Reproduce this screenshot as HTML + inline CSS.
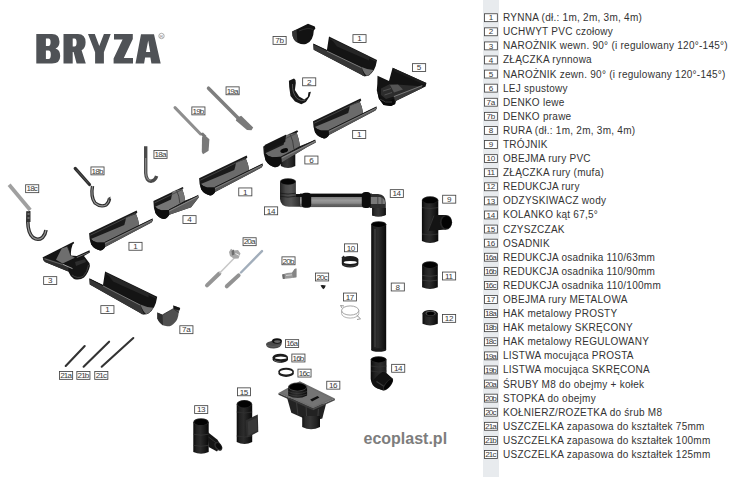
<!DOCTYPE html>
<html><head><meta charset="utf-8"><style>
html,body{margin:0;padding:0;background:#fff;width:750px;height:477px;overflow:hidden}
svg{display:block;font-family:"Liberation Sans",sans-serif}
</style></head><body>
<svg width="750" height="477" viewBox="0 0 750 477">
<defs><linearGradient id="cyl" x1="0" x2="1" y1="0" y2="0"><stop offset="0" stop-color="#121212"/><stop offset="0.18" stop-color="#2a2a2a"/><stop offset="0.45" stop-color="#363636"/><stop offset="0.8" stop-color="#222"/><stop offset="1" stop-color="#0e0e0e"/></linearGradient><linearGradient id="cylb" x1="0" x2="1" y1="0" y2="0"><stop offset="0" stop-color="#0a0a0a"/><stop offset="0.2" stop-color="#222"/><stop offset="0.45" stop-color="#2c2c2c"/><stop offset="0.8" stop-color="#161616"/><stop offset="1" stop-color="#080808"/></linearGradient><linearGradient id="cylg" x1="0" x2="1" y1="0" y2="0"><stop offset="0" stop-color="#222"/><stop offset="0.25" stop-color="#484848"/><stop offset="0.5" stop-color="#555"/><stop offset="0.85" stop-color="#333"/><stop offset="1" stop-color="#1a1a1a"/></linearGradient><linearGradient id="hpipe" x1="0" x2="0" y1="0" y2="1"><stop offset="0" stop-color="#0a0a0a"/><stop offset="0.22" stop-color="#111"/><stop offset="0.26" stop-color="#7e7e7e"/><stop offset="0.5" stop-color="#9a9a9a"/><stop offset="0.72" stop-color="#888"/><stop offset="0.78" stop-color="#6a6a6a"/><stop offset="1" stop-color="#555"/></linearGradient></defs>
<rect x="483" y="0" width="16" height="477" fill="#e8ebee"/>
<rect x="484.45" y="13.75" width="12.90" height="7.90" fill="#fff" stroke="#444" stroke-width="0.85"/><text x="490.90" y="20.40" font-size="8.1" text-anchor="middle" fill="#3a3a3a" letter-spacing="0">1</text>
<text x="503" y="21.20" font-size="10" letter-spacing="0.26" fill="#333">RYNNA (dł.: 1m, 2m, 3m, 4m)</text>
<rect x="484.45" y="27.84" width="12.90" height="7.90" fill="#fff" stroke="#444" stroke-width="0.85"/><text x="490.90" y="34.49" font-size="8.1" text-anchor="middle" fill="#3a3a3a" letter-spacing="0">2</text>
<text x="503" y="35.29" font-size="10" letter-spacing="0.26" fill="#333">UCHWYT PVC czołowy</text>
<rect x="484.45" y="41.93" width="12.90" height="7.90" fill="#fff" stroke="#444" stroke-width="0.85"/><text x="490.90" y="48.58" font-size="8.1" text-anchor="middle" fill="#3a3a3a" letter-spacing="0">3</text>
<text x="503" y="49.38" font-size="10" letter-spacing="0.26" fill="#333">NAROŻNIK wewn. 90° (i regulowany 120°-145°)</text>
<rect x="484.45" y="56.02" width="12.90" height="7.90" fill="#fff" stroke="#444" stroke-width="0.85"/><text x="490.90" y="62.67" font-size="8.1" text-anchor="middle" fill="#3a3a3a" letter-spacing="0">4</text>
<text x="503" y="63.47" font-size="10" letter-spacing="0.26" fill="#333">ZŁĄCZKA rynnowa</text>
<rect x="484.45" y="70.11" width="12.90" height="7.90" fill="#fff" stroke="#444" stroke-width="0.85"/><text x="490.90" y="76.76" font-size="8.1" text-anchor="middle" fill="#3a3a3a" letter-spacing="0">5</text>
<text x="503" y="77.56" font-size="10" letter-spacing="0.26" fill="#333">NAROŻNIK zewn. 90° (i regulowany 120°-145°)</text>
<rect x="484.45" y="84.20" width="12.90" height="7.90" fill="#fff" stroke="#444" stroke-width="0.85"/><text x="490.90" y="90.85" font-size="8.1" text-anchor="middle" fill="#3a3a3a" letter-spacing="0">6</text>
<text x="503" y="91.65" font-size="10" letter-spacing="0.26" fill="#333">LEJ spustowy</text>
<rect x="484.45" y="98.29" width="12.90" height="7.90" fill="#fff" stroke="#444" stroke-width="0.85"/><text x="490.70" y="104.94" font-size="8.1" text-anchor="middle" fill="#3a3a3a" letter-spacing="-0.4">7a</text>
<text x="503" y="105.74" font-size="10" letter-spacing="0.26" fill="#333">DENKO lewe</text>
<rect x="484.45" y="112.38" width="12.90" height="7.90" fill="#fff" stroke="#444" stroke-width="0.85"/><text x="490.70" y="119.03" font-size="8.1" text-anchor="middle" fill="#3a3a3a" letter-spacing="-0.4">7b</text>
<text x="503" y="119.83" font-size="10" letter-spacing="0.26" fill="#333">DENKO prawe</text>
<rect x="484.45" y="126.47" width="12.90" height="7.90" fill="#fff" stroke="#444" stroke-width="0.85"/><text x="490.90" y="133.12" font-size="8.1" text-anchor="middle" fill="#3a3a3a" letter-spacing="0">8</text>
<text x="503" y="133.92" font-size="10" letter-spacing="0.26" fill="#333">RURA (dł.: 1m, 2m, 3m, 4m)</text>
<rect x="484.45" y="140.56" width="12.90" height="7.90" fill="#fff" stroke="#444" stroke-width="0.85"/><text x="490.90" y="147.21" font-size="8.1" text-anchor="middle" fill="#3a3a3a" letter-spacing="0">9</text>
<text x="503" y="148.01" font-size="10" letter-spacing="0.26" fill="#333">TRÓJNIK</text>
<rect x="484.45" y="154.65" width="12.90" height="7.90" fill="#fff" stroke="#444" stroke-width="0.85"/><text x="490.70" y="161.30" font-size="8.1" text-anchor="middle" fill="#3a3a3a" letter-spacing="-0.4">10</text>
<text x="503" y="162.10" font-size="10" letter-spacing="0.26" fill="#333">OBEJMA rury PVC</text>
<rect x="484.45" y="168.74" width="12.90" height="7.90" fill="#fff" stroke="#444" stroke-width="0.85"/><text x="490.70" y="175.39" font-size="8.1" text-anchor="middle" fill="#3a3a3a" letter-spacing="-0.4">11</text>
<text x="503" y="176.19" font-size="10" letter-spacing="0.26" fill="#333">ZŁĄCZKA rury (mufa)</text>
<rect x="484.45" y="182.83" width="12.90" height="7.90" fill="#fff" stroke="#444" stroke-width="0.85"/><text x="490.70" y="189.48" font-size="8.1" text-anchor="middle" fill="#3a3a3a" letter-spacing="-0.4">12</text>
<text x="503" y="190.28" font-size="10" letter-spacing="0.26" fill="#333">REDUKCJA rury</text>
<rect x="484.45" y="196.92" width="12.90" height="7.90" fill="#fff" stroke="#444" stroke-width="0.85"/><text x="490.70" y="203.57" font-size="8.1" text-anchor="middle" fill="#3a3a3a" letter-spacing="-0.4">13</text>
<text x="503" y="204.37" font-size="10" letter-spacing="0.26" fill="#333">ODZYSKIWACZ wody</text>
<rect x="484.45" y="211.01" width="12.90" height="7.90" fill="#fff" stroke="#444" stroke-width="0.85"/><text x="490.70" y="217.66" font-size="8.1" text-anchor="middle" fill="#3a3a3a" letter-spacing="-0.4">14</text>
<text x="503" y="218.46" font-size="10" letter-spacing="0.26" fill="#333">KOLANKO kąt 67,5°</text>
<rect x="484.45" y="225.10" width="12.90" height="7.90" fill="#fff" stroke="#444" stroke-width="0.85"/><text x="490.70" y="231.75" font-size="8.1" text-anchor="middle" fill="#3a3a3a" letter-spacing="-0.4">15</text>
<text x="503" y="232.55" font-size="10" letter-spacing="0.26" fill="#333">CZYSZCZAK</text>
<rect x="484.45" y="239.19" width="12.90" height="7.90" fill="#fff" stroke="#444" stroke-width="0.85"/><text x="490.70" y="245.84" font-size="8.1" text-anchor="middle" fill="#3a3a3a" letter-spacing="-0.4">16</text>
<text x="503" y="246.64" font-size="10" letter-spacing="0.26" fill="#333">OSADNIK</text>
<rect x="484.45" y="253.28" width="12.90" height="7.90" fill="#fff" stroke="#444" stroke-width="0.85"/><text x="490.47" y="259.93" font-size="8.1" text-anchor="middle" fill="#3a3a3a" letter-spacing="-0.85">16a</text>
<text x="503" y="260.73" font-size="10" letter-spacing="0.26" fill="#333">REDUKCJA osadnika 110/63mm</text>
<rect x="484.45" y="267.37" width="12.90" height="7.90" fill="#fff" stroke="#444" stroke-width="0.85"/><text x="490.47" y="274.02" font-size="8.1" text-anchor="middle" fill="#3a3a3a" letter-spacing="-0.85">16b</text>
<text x="503" y="274.82" font-size="10" letter-spacing="0.26" fill="#333">REDUKCJA osadnika 110/90mm</text>
<rect x="484.45" y="281.46" width="12.90" height="7.90" fill="#fff" stroke="#444" stroke-width="0.85"/><text x="490.47" y="288.11" font-size="8.1" text-anchor="middle" fill="#3a3a3a" letter-spacing="-0.85">16c</text>
<text x="503" y="288.91" font-size="10" letter-spacing="0.26" fill="#333">REDUKCJA osadnika 110/100mm</text>
<rect x="484.45" y="295.55" width="12.90" height="7.90" fill="#fff" stroke="#444" stroke-width="0.85"/><text x="490.70" y="302.20" font-size="8.1" text-anchor="middle" fill="#3a3a3a" letter-spacing="-0.4">17</text>
<text x="503" y="303.00" font-size="10" letter-spacing="0.26" fill="#333">OBEJMA rury METALOWA</text>
<rect x="484.45" y="309.64" width="12.90" height="7.90" fill="#fff" stroke="#444" stroke-width="0.85"/><text x="490.47" y="316.29" font-size="8.1" text-anchor="middle" fill="#3a3a3a" letter-spacing="-0.85">18a</text>
<text x="503" y="317.09" font-size="10" letter-spacing="0.26" fill="#333">HAK metalowy PROSTY</text>
<rect x="484.45" y="323.73" width="12.90" height="7.90" fill="#fff" stroke="#444" stroke-width="0.85"/><text x="490.47" y="330.38" font-size="8.1" text-anchor="middle" fill="#3a3a3a" letter-spacing="-0.85">18b</text>
<text x="503" y="331.18" font-size="10" letter-spacing="0.26" fill="#333">HAK metalowy SKRĘCONY</text>
<rect x="484.45" y="337.82" width="12.90" height="7.90" fill="#fff" stroke="#444" stroke-width="0.85"/><text x="490.47" y="344.47" font-size="8.1" text-anchor="middle" fill="#3a3a3a" letter-spacing="-0.85">18c</text>
<text x="503" y="345.27" font-size="10" letter-spacing="0.26" fill="#333">HAK metalowy REGULOWANY</text>
<rect x="484.45" y="351.91" width="12.90" height="7.90" fill="#fff" stroke="#444" stroke-width="0.85"/><text x="490.47" y="358.56" font-size="8.1" text-anchor="middle" fill="#3a3a3a" letter-spacing="-0.85">19a</text>
<text x="503" y="359.36" font-size="10" letter-spacing="0.26" fill="#333">LISTWA mocująca PROSTA</text>
<rect x="484.45" y="366.00" width="12.90" height="7.90" fill="#fff" stroke="#444" stroke-width="0.85"/><text x="490.47" y="372.65" font-size="8.1" text-anchor="middle" fill="#3a3a3a" letter-spacing="-0.85">19b</text>
<text x="503" y="373.45" font-size="10" letter-spacing="0.26" fill="#333">LISTWA mocująca SKRĘCONA</text>
<rect x="484.45" y="380.09" width="12.90" height="7.90" fill="#fff" stroke="#444" stroke-width="0.85"/><text x="490.47" y="386.74" font-size="8.1" text-anchor="middle" fill="#3a3a3a" letter-spacing="-0.85">20a</text>
<text x="503" y="387.54" font-size="10" letter-spacing="0.26" fill="#333">ŚRUBY M8 do obejmy + kołek</text>
<rect x="484.45" y="394.18" width="12.90" height="7.90" fill="#fff" stroke="#444" stroke-width="0.85"/><text x="490.47" y="400.83" font-size="8.1" text-anchor="middle" fill="#3a3a3a" letter-spacing="-0.85">20b</text>
<text x="503" y="401.63" font-size="10" letter-spacing="0.26" fill="#333">STOPKA do obejmy</text>
<rect x="484.45" y="408.27" width="12.90" height="7.90" fill="#fff" stroke="#444" stroke-width="0.85"/><text x="490.47" y="414.92" font-size="8.1" text-anchor="middle" fill="#3a3a3a" letter-spacing="-0.85">20c</text>
<text x="503" y="415.72" font-size="10" letter-spacing="0.26" fill="#333">KOŁNIERZ/ROZETKA do śrub M8</text>
<rect x="484.45" y="422.36" width="12.90" height="7.90" fill="#fff" stroke="#444" stroke-width="0.85"/><text x="490.47" y="429.01" font-size="8.1" text-anchor="middle" fill="#3a3a3a" letter-spacing="-0.85">21a</text>
<text x="503" y="429.81" font-size="10" letter-spacing="0.26" fill="#333">USZCZELKA zapasowa do kształtek 75mm</text>
<rect x="484.45" y="436.45" width="12.90" height="7.90" fill="#fff" stroke="#444" stroke-width="0.85"/><text x="490.47" y="443.10" font-size="8.1" text-anchor="middle" fill="#3a3a3a" letter-spacing="-0.85">21b</text>
<text x="503" y="443.90" font-size="10" letter-spacing="0.26" fill="#333">USZCZELKA zapasowa do kształtek 100mm</text>
<rect x="484.45" y="450.54" width="12.90" height="7.90" fill="#fff" stroke="#444" stroke-width="0.85"/><text x="490.47" y="457.19" font-size="8.1" text-anchor="middle" fill="#3a3a3a" letter-spacing="-0.85">21c</text>
<text x="503" y="457.99" font-size="10" letter-spacing="0.26" fill="#333">USZCZELKA zapasowa do kształtek 125mm</text>
<g fill="#4f5256"><path fill-rule="evenodd" d="M36.3,33.9 H52 Q59.5,34 59.5,41.8 Q59.5,47 55.5,48.6 Q60.2,50 60.2,56 Q60.2,63.6 52,63.6 H36.3 Z M45.9,38.6 V46 H48.5 Q50.6,46 50.6,42.3 Q50.6,38.6 48.5,38.6 Z M45.9,50.6 V59 H48.5 Q50.8,59 50.8,54.8 Q50.8,50.6 48.5,50.6 Z"/><path fill-rule="evenodd" d="M63.5,33.9 H78 Q85.6,34 85.6,42.3 Q85.6,48.3 81.6,50.3 L85.8,63.6 H76.6 L73.6,52 H72.7 V63.6 H63.5 Z M72.7,38.6 V46.4 H74.5 Q76.6,46.4 76.6,42.5 Q76.6,38.6 74.5,38.6 Z"/><path d="M88,33.9 H94.8 L99.3,46 L103.9,33.9 H110.7 L103.9,52.3 V63.6 H95.1 V52.3 Z"/><path d="M114,33.9 H132.8 V38.9 L123.8,57.9 H133 V63.6 H113.6 V58.4 L122.6,39.4 H114 Z"/><path fill-rule="evenodd" d="M135.5,63.6 L141,34.3 H154 L160.7,63.6 H151.4 L150.4,57.6 H145.1 L144.1,63.6 Z M146,51.9 H150.2 L148.2,40.6 Z"/></g>
<circle cx="161.5" cy="36" r="2.7" fill="none" stroke="#8a8a8a" stroke-width="0.7"/><text x="161.5" y="37.6" font-size="4.2" text-anchor="middle" fill="#8a8a8a">R</text>
<text x="363.5" y="443.6" font-size="16" font-weight="bold" fill="#7d7d7d">ecoplast.pl</text>
<path d="M329.00,36.60 L377.00,59.90 L376.70,61.50 Q375.50,70.60 369.00,75.40 Q364.50,77.40 361.00,74.60 L313.70,49.80 L313.30,43.90 L326.90,50.30 Z" fill="#141414"/><path d="M313.30,43.90 L361.50,66.80 Q362.50,71.60 365.00,76.40 Q363.00,76.60 361.00,74.60 L313.70,49.80 Z" fill="#363636"/><path d="M313.40,44.00 L361.50,66.90" stroke="#0e0e0e" stroke-width="0.9"/><path d="M330.00,38.90 L376.00,61.20" stroke="#333" stroke-width="0.7"/><path d="M326.90,51.10 L361.50,67.70" stroke="#9a9a9a" stroke-width="0.7"/><path d="M361.50,67.00 Q367.00,69.60 373.50,70.10 Q371.00,74.10 367.00,76.10 Q364.00,73.60 361.50,67.00 Z" fill="#6e6e6e"/><polygon points="331.0,38.6 369.0,56.6 369.0,60.6 337.0,46.6" fill="#262626"/>
<path d="M105.10,271.40 L157.18,296.68 L156.85,298.42 Q155.55,308.29 148.50,313.50 Q143.62,315.67 139.82,312.63 L89.80,284.60 L89.40,278.70 L103.00,285.10 Z" fill="#141414"/><path d="M89.40,278.70 L140.36,304.17 Q141.45,309.38 144.16,314.58 Q141.99,314.80 139.82,312.63 L89.80,284.60 Z" fill="#363636"/><path d="M89.50,278.80 L140.36,304.28" stroke="#0e0e0e" stroke-width="0.9"/><path d="M106.10,273.70 L156.09,298.09" stroke="#333" stroke-width="0.7"/><path d="M103.00,285.90 L140.36,305.14" stroke="#9a9a9a" stroke-width="0.7"/><path d="M140.36,304.38 Q146.33,307.20 153.38,307.75 Q150.67,312.09 146.33,314.26 Q143.07,311.54 140.36,304.38 Z" fill="#6e6e6e"/><polygon points="107.1,273.4 148.5,293.1 148.5,297.4 113.1,281.4" fill="#262626"/>
<path d="M313.00,121.30 L360.50,98.40 L361.30,100.30 L359.90,102.10 Q362.50,107.30 363.10,113.30 L376.50,106.90 L376.80,108.70 L375.40,110.60 L329.00,135.10 Q327.00,138.50 324.00,138.50 Q318.00,137.30 315.00,132.30 Q313.00,127.30 313.00,121.30 Z" fill="#1a1a1a"/><path d="M314.80,127.10 L348.20,112.90 Q349.50,109.30 349.90,105.60 L359.90,102.10 Q362.50,107.30 363.10,113.30 L328.50,130.40 L321.00,130.60 Q317.00,129.80 314.80,127.10 Z" fill="#6b6b6b"/><path d="M328.50,130.40 L376.50,106.90 L375.40,110.60 L329.00,135.10 Z" fill="#585858"/><line x1="328.5" y1="130.4" x2="376.5" y2="106.9" stroke="#1a1a1a" stroke-width="1"/><line x1="328.8" y1="131.6" x2="376.3" y2="108.2" stroke="#8a8a8a" stroke-width="0.7"/><line x1="314.2" y1="123.2" x2="359.5" y2="101.2" stroke="#4a4a4a" stroke-width="0.9"/><path d="M314.80,127.10 Q317.00,129.80 321.00,130.60 L328.50,130.40 L329.00,135.10 Q327.00,138.50 324.00,138.50 Q318.00,137.30 315.00,132.30 Q313.80,129.30 314.80,127.10 Z" fill="#0e0e0e"/>
<path d="M199.10,178.30 L246.60,155.40 L247.40,157.30 L246.00,159.10 Q248.60,164.30 249.20,170.30 L262.60,163.90 L262.90,165.70 L261.50,167.60 L215.10,192.10 Q213.10,195.50 210.10,195.50 Q204.10,194.30 201.10,189.30 Q199.10,184.30 199.10,178.30 Z" fill="#1a1a1a"/><path d="M200.90,184.10 L234.30,169.90 Q235.60,166.30 236.00,162.60 L246.00,159.10 Q248.60,164.30 249.20,170.30 L214.60,187.40 L207.10,187.60 Q203.10,186.80 200.90,184.10 Z" fill="#6b6b6b"/><path d="M214.60,187.40 L262.60,163.90 L261.50,167.60 L215.10,192.10 Z" fill="#585858"/><line x1="214.6" y1="187.4" x2="262.6" y2="163.9" stroke="#1a1a1a" stroke-width="1"/><line x1="214.9" y1="188.6" x2="262.4" y2="165.2" stroke="#8a8a8a" stroke-width="0.7"/><line x1="200.3" y1="180.2" x2="245.6" y2="158.2" stroke="#4a4a4a" stroke-width="0.9"/><path d="M200.90,184.10 Q203.10,186.80 207.10,187.60 L214.60,187.40 L215.10,192.10 Q213.10,195.50 210.10,195.50 Q204.10,194.30 201.10,189.30 Q199.90,186.30 200.90,184.10 Z" fill="#0e0e0e"/>
<path d="M89.10,233.30 L136.60,210.40 L137.40,212.30 L136.00,214.10 Q138.60,219.30 139.20,225.30 L152.60,218.90 L152.90,220.70 L151.50,222.60 L105.10,247.10 Q103.10,250.50 100.10,250.50 Q94.10,249.30 91.10,244.30 Q89.10,239.30 89.10,233.30 Z" fill="#1a1a1a"/><path d="M90.90,239.10 L124.30,224.90 Q125.60,221.30 126.00,217.60 L136.00,214.10 Q138.60,219.30 139.20,225.30 L104.60,242.40 L97.10,242.60 Q93.10,241.80 90.90,239.10 Z" fill="#6b6b6b"/><path d="M104.60,242.40 L152.60,218.90 L151.50,222.60 L105.10,247.10 Z" fill="#585858"/><line x1="104.6" y1="242.4" x2="152.6" y2="218.9" stroke="#1a1a1a" stroke-width="1"/><line x1="104.9" y1="243.6" x2="152.4" y2="220.2" stroke="#8a8a8a" stroke-width="0.7"/><line x1="90.3" y1="235.2" x2="135.6" y2="213.2" stroke="#4a4a4a" stroke-width="0.9"/><path d="M90.90,239.10 Q93.10,241.80 97.10,242.60 L104.60,242.40 L105.10,247.10 Q103.10,250.50 100.10,250.50 Q94.10,249.30 91.10,244.30 Q89.90,241.30 90.90,239.10 Z" fill="#0e0e0e"/>
<polygon points="377.5,75.8 389.0,81.1 392.6,67.7 426.4,82.9 425.6,86.4 421.9,88.2 396.2,100.8 395.2,104.0 391.0,106.1 383.6,105.0 378.9,98.7 376.8,90.3 377.3,84.0" fill="#131313" />
<polygon points="381.0,88.5 390.0,84.0 421.0,86.3 394.0,96.5 386.0,99.0 381.0,95.0" fill="#2c2c2c" />
<polygon points="390.0,85.0 398.0,84.5 403.0,89.5 394.0,92.5" fill="#555" />
<path d="M383,91 L391,88.5 M384.5,95 L392,92.5" stroke="#6a6a6a" stroke-width="0.6"/>
<polygon points="393.8,96.3 422.4,85.4 421.9,88.2 396.2,100.8 395.2,101.5" fill="#3a3a3a" />
<line x1="393.8" y1="96.6" x2="422.3" y2="85.6" stroke="#9a9a9a" stroke-width="0.7"/>
<path d="M377,90 Q378.5,97 383,100.5 Q388,102.5 393.5,99 L395.2,104 L391,106.1 L383.6,105 L378.9,98.7 Z" fill="#080808"/>
<path d="M380,99 Q385,103.5 392,102" fill="none" stroke="#555" stroke-width="0.7"/>
<polygon points="392.6,67.7 426.4,82.9 424.0,84.5 394.5,71.5" fill="#1c1c1c" />
<path d="M292.2,31.4 L308,23.7 L314.8,26.6 L315.4,28.5 L313.8,30.4 Q313.5,41 306,44 Q299,45.5 294,39.5 Q292,36 292.2,31.4 Z" fill="#121212"/>
<path d="M292.2,31.4 L296.5,29.6 L297.5,42.6 Q295,41.5 294,39.5 Q292,36 292.2,31.4 Z" fill="#333"/>
<path d="M299,31 Q308,27 313,29.5" fill="none" stroke="#2e2e2e" stroke-width="1"/>
<polygon points="288.9,80.8 294.0,78.6 295.5,80.0 295.8,83.0 294.9,90.0 299.1,96.5 304.3,99.5 307.8,96.8 308.5,92.3 310.9,91.8 309.6,96.5 305.9,102.0 301.3,104.3 295.0,101.5 290.5,96.0 289.2,87.0" fill="#161616" />
<path d="M292.5,84 Q292,93 297,98.5 Q301.5,102 305.5,100" fill="none" stroke="#666" stroke-width="0.8"/>
<path d="M153.40,200.90 L182.70,187.00 L183.60,188.30 L182.30,189.10 Q184.40,194.90 185.20,200.50 L198.20,195.40 L198.70,197.50 L191.10,207.20 L169.30,214.70 Q166.90,218.90 163.40,218.90 Q158.40,217.90 155.40,212.90 Q153.40,207.90 153.40,200.90 Z" fill="#1a1a1a"/><path d="M155.20,206.70 L171.00,199.40 Q171.90,194.90 172.60,191.30 L182.30,189.10 Q184.40,194.90 185.20,200.50 L168.90,209.90 L161.40,210.20 Q157.40,209.40 155.20,206.70 Z" fill="#767676"/><path d="M176.40,189.90 Q179.40,195.90 179.90,203.40" fill="none" stroke="#333" stroke-width="0.8"/><path d="M168.90,209.90 L198.20,195.40 L198.70,197.50 L191.10,207.20 L169.30,214.70 Z" fill="#5e5e5e"/><path d="M168.90,209.90 L198.20,195.40" stroke="#1a1a1a" stroke-width="1"/><path d="M169.20,211.10 L198.00,196.60" stroke="#999" stroke-width="0.7"/><path d="M154.60,202.80 L181.90,189.70" stroke="#4a4a4a" stroke-width="0.9"/><path d="M155.20,206.70 Q157.40,209.40 161.40,210.20 L168.90,209.90 L169.30,214.70 Q166.90,218.90 163.40,218.90 Q158.40,217.90 155.40,212.90 Q154.20,208.90 155.20,206.70 Z" fill="#0e0e0e"/>
<path d="M280.8,152 L295.3,148 L295.3,166 Q288,170 280.8,166 Z" fill="url(#cyl)"/>
<path d="M263.20,146.40 L297.19,130.28 L298.23,131.78 L296.72,132.71 Q299.16,139.44 300.09,145.94 L315.17,140.02 L315.75,142.46 L307.16,146.98 L281.64,162.41 Q278.86,167.28 274.80,167.28 Q269.00,166.12 265.52,160.32 Q263.20,154.52 263.20,146.40 Z" fill="#1a1a1a"/><path d="M265.29,153.13 L283.62,144.66 Q284.66,139.44 285.47,135.26 L296.72,132.71 Q299.16,139.44 300.09,145.94 L281.18,156.84 L272.48,157.19 Q267.84,156.26 265.29,153.13 Z" fill="#6a6a6a"/><path d="M289.88,133.64 Q293.36,140.60 293.94,149.30" fill="none" stroke="#333" stroke-width="0.8"/><path d="M281.18,156.84 L315.17,140.02 L315.75,142.46 L307.16,146.98 L281.64,162.41 Z" fill="#5e5e5e"/><path d="M281.18,156.84 L315.17,140.02" stroke="#1a1a1a" stroke-width="1"/><path d="M281.53,158.23 L314.94,141.41" stroke="#999" stroke-width="0.7"/><path d="M264.59,148.60 L296.26,133.41" stroke="#4a4a4a" stroke-width="0.9"/><path d="M265.29,153.13 Q267.84,156.26 272.48,157.19 L281.18,156.84 L281.64,162.41 Q278.86,167.28 274.80,167.28 Q269.00,166.12 265.52,160.32 Q264.13,155.68 265.29,153.13 Z" fill="#0e0e0e"/>
<path d="M264.70,151.40 L285.20,141.90 Q285.70,137.40 286.20,134.40 L264.70,144.90 Z" fill="#141414"/>
<ellipse cx="284.2" cy="150.5" rx="4" ry="2.2" fill="#0a0a0a" transform="rotate(-20 284.2 150.5)"/>
<path d="M42.8,257.3 L73.5,241.8 L74.2,243 L72.6,244.5 Q70.5,250 70.8,255.6 L76.8,255.9 L89.5,250.3 L89.9,252.5 L84,256 L89.5,263.3 L89.9,266 Q88.5,273 84,277.5 Q80,280.5 74,279 Q70,276 68.3,271.5 L45,262 Q42.5,260 42.8,257.3 Z" fill="#151515"/>
<path d="M56,259.8 L61.7,248.4 L67.4,246.5 Q69.5,251 70.8,255.6 L74.9,257.8 L62.6,263.5 Z" fill="#6e6e6e"/>
<path d="M67.4,246.5 Q69.5,251 70.8,255.6" fill="none" stroke="#222" stroke-width="0.8"/>
<path d="M42.8,257.3 L62.6,263.5 L68.3,266.8 L68.3,271.5 L45,262 Q42.5,260 42.8,257.3 Z" fill="#2e2e2e"/>
<path d="M44.5,258.8 L62.5,264.5" stroke="#8a8a8a" stroke-width="0.6"/>
<path d="M62.8,264.3 L72.5,268.6" stroke="#b0b0b0" stroke-width="0.9"/>
<path d="M76.8,257.5 L88.5,252.5" stroke="#6a6a6a" stroke-width="1"/>
<path d="M72,275 Q77,279 83,276.5 Q87.5,272 88.5,265" fill="none" stroke="#4a4a4a" stroke-width="0.8"/>
<path d="M75,262 L85,259 L86,262 L76,266 Z" fill="#2e2e2e"/>
<path d="M157.3,312.5 L162.6,314.8 L173.3,308.7 L173.3,305.6 L180.2,307.9 L179.4,310.2 L178.7,312.5 Q178,320 174.9,322.4 Q171,326.8 167.2,326.3 Q163,325.8 161.1,324 Q158,321.5 157.3,318.6 Z" fill="#505050"/>
<path d="M157.3,312.5 L162.6,314.8 L163,325.4 Q159,323 157.3,318.6 Z" fill="#2e2e2e"/>
<path d="M173.3,305.6 L180.2,307.9 L179.4,310.2 L174,309.2 Z" fill="#151515"/>
<path d="M162.6,314.8 L173.3,308.7 L178.7,312.5" fill="none" stroke="#2a2a2a" stroke-width="0.8"/>
<path d="M145.7,146.3 L145.7,173 Q146.2,181.5 151.3,181.2 Q155.3,180.5 156.6,176" fill="none" stroke="#4a4a4a" stroke-width="3.4"/>
<path d="M145.7,158 L145.7,173 Q146.2,180 150.5,180.5" fill="none" stroke="#8a8a8a" stroke-width="1.2"/>
<path d="M75.2,168.4 L89.5,184.5" stroke="#2e2e2e" stroke-width="3.2" stroke-linecap="round"/>
<path d="M76.5,169.8 L88.5,183.3" stroke="#555" stroke-width="1"/>
<path d="M92.5,186 Q90.5,197 95,203 Q100.5,207.5 106,205 Q109,202.5 109.5,198.5" fill="none" stroke="#2e2e2e" stroke-width="3.4"/>
<path d="M92.5,186 Q90.5,197 95,203 Q100.5,207.5 106,205 Q109,202.5 109.5,198.5" fill="none" stroke="#9a9a9a" stroke-width="1.1"/>
<path d="M108,198 L110.5,196.5 L110,202 Z" fill="#444"/>
<path d="M9.1,184.8 L30.2,210" stroke="#a0a0a0" stroke-width="3.8"/>
<path d="M28.2,211 L27.8,222 Q28,233 33,237.5 Q38,241 42.5,237.5 Q45.5,234 46,230" fill="none" stroke="#2e2e2e" stroke-width="3.6"/>
<path d="M28.2,211 L27.8,222 Q28,233 33,237.5 Q38,241 42.5,237.5 Q45.5,234 46,230" fill="none" stroke="#9a9a9a" stroke-width="1.2"/>
<path d="M26.5,212 L30.5,211 L30.5,222 L26.5,222 Z" fill="#333"/>
<path d="M27.5,214 h2 M27.5,218 h2" stroke="#bbb" stroke-width="0.8"/>
<path d="M208.5,88.2 L239.5,119.5" stroke="#7e7e7e" stroke-width="3.5" stroke-linecap="round"/>
<polygon points="237.0,117.8 241.2,115.8 253.2,127.6 251.5,130.2 247.0,130.0 235.8,120.5" fill="#7a7a7a" />
<path d="M175,107.6 L200.5,134" stroke="#8e8e8e" stroke-width="3" stroke-linecap="round"/>
<polygon points="200.0,133.5 203.0,132.5 206.5,136.0 203.5,138.0" fill="#777" />
<polygon points="202.0,137.3 205.5,135.8 209.4,139.2 208.6,150.8 203.0,154.3 201.8,152.0" fill="#7a7a7a" />
<path d="M65.7,366 L84.7,346 M83.6,366.7 L109.1,341.7 M101.7,366.7 L133.3,338" stroke="#333" stroke-width="2.1" stroke-linecap="round"/>
<path d="M280,181.5 L280,199 Q280.5,206.7 289,206.7 L302,206.7 L302,194.1 L295.9,194.1 L295.9,181.5 Z" fill="url(#cylg)"/>
<path d="M296,194.1 H302 V197 H296 Z" fill="#111"/>
<ellipse cx="288" cy="181.5" rx="8" ry="3.3" fill="#333"/><ellipse cx="288" cy="181.7" rx="7.2" ry="2.8" fill="#050505"/>
<path d="M280,193.2 Q288,195 295.9,193.2 M280,196.3 Q288,198 295.9,196.3" fill="none" stroke="#1a1a1a" stroke-width="0.8"/>
<rect x="300" y="193.6" width="72" height="13.5" fill="url(#hpipe)"/>
<rect x="301.7" y="192.7" width="9.5" height="15" rx="3.5" fill="#0c0c0c"/>
<path d="M370,194 L378,194 Q385.8,194.5 385.8,203 L385.8,215 Q378.8,217.8 372.2,215.5 L372.2,208 L370,208 Z" fill="#2e2e2e"/>
<path d="M370,197 L380,197 Q384.5,198 385,201.5 L385,204 L370,204 Z" fill="#7a7a7a"/>
<path d="M372.2,208 H385.8 V215 Q378.8,217.8 372.2,215.5 Z" fill="url(#cyl)"/>
<path d="M377.8,194.5 V207.5 M382,195.5 V206.5" stroke="#333" stroke-width="0.7"/>
<rect x="361.8" y="192.1" width="9" height="16" rx="3.5" fill="#0c0c0c"/>
<rect x="371.2" y="224" width="15" height="126" fill="url(#cylb)"/>
<path d="M375,229 V347" stroke="#4e4e4e" stroke-width="0.9"/>
<ellipse cx="378.7" cy="350" rx="7.5" ry="1.8" fill="#1a1a1a"/>
<ellipse cx="378.7" cy="224.3" rx="7.5" ry="3.1" fill="#2a2a2a"/><ellipse cx="378.7" cy="224.5" rx="6.8" ry="2.6" fill="#000"/>
<path d="M421.9,200 L421.9,241 Q430.1,245 438.3,241 L438.3,200 Z" fill="url(#cylb)"/>
<path d="M434,215.1 L446,215.1 L446,229.6 L428,231 Q431,222 434,215.1 Z" fill="#141414"/>
<path d="M428,231 Q432,221 434,215.5" fill="none" stroke="#3a3a3a" stroke-width="0.8"/>
<ellipse cx="446" cy="222.3" rx="6.1" ry="7.4" fill="#262626"/><ellipse cx="446.6" cy="222.3" rx="5" ry="6.3" fill="#030303"/>
<ellipse cx="430.1" cy="200" rx="8.2" ry="3.7" fill="#2a2a2a"/><ellipse cx="430.1" cy="200.2" rx="7.4" ry="3.1" fill="#030303"/>
<path d="M422,207.6 Q430,209.5 438,207.6 M422,234 Q430,236 438,234" fill="none" stroke="#3a3a3a" stroke-width="0.7"/>
<path d="M422.1,264.8 V287.3 Q430,290.5 437.8,287.3 V264.8 Z" fill="url(#cylb)"/>
<ellipse cx="430" cy="264.8" rx="7.9" ry="3.5" fill="#2a2a2a"/><ellipse cx="430" cy="265" rx="7.1" ry="2.9" fill="#030303"/>
<path d="M422.1,275.4 Q430,277.3 437.8,275.4 M422.1,280.1 Q430,282 437.8,280.1" fill="none" stroke="#444" stroke-width="0.7"/>
<path d="M422.5,313.5 V323.8 Q430.1,327 437.8,323.8 V313.5 Z" fill="url(#cylb)"/>
<ellipse cx="430.1" cy="313.5" rx="7.6" ry="3.5" fill="#1a1a1a"/><ellipse cx="430.6" cy="313.2" rx="5" ry="2.4" fill="#555"/><ellipse cx="430.6" cy="313.5" rx="4" ry="1.8" fill="#000"/>
<path d="M370.7,359.5 L370.7,379 Q371.5,386 377,388.3 L383.4,390.4 L392.7,378.7 L386.5,373 L386.5,359.5 Z" fill="url(#cylb)"/>
<path d="M372,382 Q376,376 383.3,371.2 L392.7,378.7 L383.4,390.4 L377,388.3 Q373,386 372,382 Z" fill="#121212"/>
<path d="M376.5,381.5 L386.5,388" stroke="#3a3a3a" stroke-width="1.1"/>
<ellipse cx="388" cy="384.5" rx="7.4" ry="2.9" fill="#2a2a2a" transform="rotate(-51.5 388 384.5)"/><ellipse cx="388.3" cy="384.3" rx="6.6" ry="2.2" fill="#050505" transform="rotate(-51.5 388.3 384.3)"/>
<ellipse cx="378.6" cy="359.5" rx="7.9" ry="3.2" fill="#2a2a2a"/><ellipse cx="378.6" cy="359.7" rx="7.1" ry="2.7" fill="#000"/>
<path d="M371,366 Q378.6,368 386.5,366 M371,371 Q378.6,373 386.5,371" fill="none" stroke="#333" stroke-width="0.7"/>
<path d="M207,285.4 L219.3,273.5" stroke="#959595" stroke-width="4" stroke-linecap="round"/>
<path d="M219.5,273.3 L234.1,258.2" stroke="#c8c8c8" stroke-width="1.6"/>
<polygon points="229.0,252.0 231.0,248.8 233.5,250.5 238.0,250.0 240.5,253.5 238.5,258.5 234.0,258.8 230.0,256.0" fill="#a8a8a8" />
<polygon points="231.5,251.0 234.0,249.5 234.5,254.5 232.0,255.5" fill="#6e6e6e" />
<path d="M235.5,253.5 L239.5,255.5" stroke="#eee" stroke-width="1"/>
<path d="M226.8,286.3 L238.6,275.4" stroke="#929292" stroke-width="4" stroke-linecap="round"/>
<path d="M241,272.5 L262,251.1" stroke="#a2aebb" stroke-width="2.4" stroke-linecap="round"/>
<polygon points="282.2,274.5 287.0,273.1 292.6,272.4 294.6,269.0 296.4,268.6 296.4,277.3 290.5,278.3 282.9,279.0" fill="#9a9a9a" />
<polygon points="282.2,274.5 284.5,274.0 284.8,278.8 282.9,279.0" fill="#6a6a6a" />
<polygon points="292.0,272.5 294.6,269.0 296.4,268.6 296.4,277.3 293.0,277.5" fill="#858585" />
<path d="M286,275.5 L292,274.8" stroke="#ddd" stroke-width="0.8"/>
<path d="M320.5,285.2 Q323,284.5 325.8,285.5 Q325,288.5 323.2,289.2 Q321.5,287.5 320.5,285.2 Z" fill="#1e1e1e"/>
<path d="M341.80,259.60 L341.80,263.90 A8.3,3.6 0 0 0 358.40,263.90 L358.40,259.60 A8.3,3.6 0 0 0 341.80,259.60 Z" fill="#1c1c1c"/><path d="M343,265 Q350,268 357.5,265" fill="none" stroke="#4a4a4a" stroke-width="0.6"/><ellipse cx="350.3" cy="262.4" rx="6.6" ry="1.5" fill="#fff"/>
<path d="M341.5,257.5 L343.8,255.6 L345.8,258.5 L342.5,260.5 Z" fill="#222"/>
<ellipse cx="350.2" cy="310.5" rx="8.6" ry="4.6" fill="none" stroke="#9a9a9a" stroke-width="0.9"/>
<path d="M341.6,310.5 L341.6,313.5 A8.6,4.6 0 0 0 358.8,313.5 L358.8,310.5" fill="none" stroke="#a8a8a8" stroke-width="0.9"/>
<path d="M356.5,315 L360.5,318.8 L357,319.5 M342,308 L340.5,305.5 L344,306" fill="none" stroke="#8a8a8a" stroke-width="0.9"/>
<path d="M266,344.5 Q266.5,348.7 274,348.5 Q281.5,348 281.8,343 L281.5,340.5 Q276,338 270,341.5 Q266,342.5 266,344.5 Z" fill="#4a4a4a"/>
<ellipse cx="277" cy="341" rx="4.9" ry="2.7" fill="#111"/><ellipse cx="277.3" cy="341.6" rx="3.2" ry="1.3" fill="#666"/>
<path d="M267,345.5 Q272,347.5 280.5,345.5" fill="none" stroke="#6a6a6a" stroke-width="0.6"/>
<path d="M272.60,357.30 L272.60,359.40 A7.7,3.5 0 0 0 288.00,359.40 L288.00,357.30 A7.7,3.5 0 0 0 272.60,357.30 Z" fill="#1c1c1c"/><path d="M274,360 Q276,362 281,362.2" fill="none" stroke="#777" stroke-width="0.8"/><ellipse cx="280.8" cy="357.9" rx="5.9" ry="1.3" fill="#fff"/>
<path d="M278.40,371.30 L278.40,373.40 A7.7,3.5 0 0 0 293.80,373.40 L293.80,371.30 A7.7,3.5 0 0 0 278.40,371.30 Z" fill="#1e1e1e"/><ellipse cx="286.1" cy="372.1" rx="6.3" ry="2.3" fill="#fff"/>
<polygon points="287.0,397.5 326.0,404.0 322.3,418.6 311.0,421.5 291.3,412.8" fill="#222" />
<path d="M296.4,401.5 L297.9,414.5 M306,405 L306.7,418.5 M318.4,409 L317.7,420" stroke="#444" stroke-width="0.8"/>
<path d="M302.2,416 L320,416 L320,427 Q311,431.5 302.2,427 Z" fill="url(#cyl)"/>
<polygon points="278.5,392.9 299.8,381.3 334.9,398.6 313.0,408.4" fill="#6e6e6e" />
<polygon points="282.0,392.8 299.8,383.0 331.0,398.5 313.0,406.6" fill="#747474" />
<polygon points="278.5,392.9 313.0,408.4 313.0,410.2 278.5,394.8" fill="#3a3a3a" />
<polygon points="313.0,408.4 334.9,398.6 334.9,400.3 313.0,410.2" fill="#4a4a4a" />
<polygon points="310.2,399.5 317.5,396.0 319.4,397.5 312.0,401.5" fill="#111" />
<path d="M288.2,386.5 L288.2,395.5 Q297.6,400.5 307.1,395.5 L307.1,386.5 Z" fill="url(#cylb)"/>
<path d="M288.2,391.5 Q297.6,395.5 307.1,391.5 M288.2,394 Q297.6,398 307.1,394" fill="none" stroke="#444" stroke-width="0.6"/>
<ellipse cx="297.6" cy="386.8" rx="9.5" ry="4.4" fill="#4a4a4a"/><ellipse cx="297.6" cy="387" rx="8.6" ry="3.7" fill="#000"/>
<path d="M236.7,403.9 L236.7,442 Q244.4,446 252.2,442 L252.2,403.9 Z" fill="url(#cylb)"/>
<ellipse cx="244.4" cy="403.9" rx="7.75" ry="3.9" fill="#2a2a2a"/><ellipse cx="244.4" cy="404.1" rx="6.9" ry="3.3" fill="#030303"/>
<polygon points="245.6,420.6 257.8,414.4 258.3,431.7 246.7,437.8" fill="#2e2e2e" />
<polygon points="247.8,421.7 256.7,417.8 257.2,430.6 248.3,435.6" fill="#3a3a3a" />
<path d="M236.7,412 Q244.4,414 252.2,412 M236.7,436 Q244.4,438 252.2,436" fill="none" stroke="#333" stroke-width="0.7"/>
<path d="M193.3,421.9 L193.3,452 Q201,455.5 208.7,452 L208.7,421.9 Z" fill="url(#cylb)"/>
<polygon points="207.0,431.5 217.5,439.8 221.0,445.5 217.0,451.5 208.7,447.0" fill="#151515" />
<path d="M208.5,437 L217,443.5" stroke="#333" stroke-width="0.9"/>
<ellipse cx="218.3" cy="446.3" rx="3.3" ry="5" fill="#2e2e2e" transform="rotate(-40 218.3 446.3)"/><ellipse cx="218.7" cy="446.3" rx="2.2" ry="3.6" fill="#0a0a0a" transform="rotate(-40 218.7 446.3)"/>
<ellipse cx="201" cy="421.9" rx="7.7" ry="3.6" fill="#2a2a2a"/><ellipse cx="201" cy="422.1" rx="6.9" ry="3" fill="#030303"/>
<path d="M193.3,434.2 Q201,436.2 208.7,434.2 M193.3,445.3 Q201,447.3 208.7,445.3" fill="none" stroke="#3a3a3a" stroke-width="0.7"/>
<rect x="273.05" y="36.45" width="13.10" height="7.90" fill="#fff" stroke="#444" stroke-width="0.85"/><text x="279.40" y="43.10" font-size="8.1" text-anchor="middle" fill="#3a3a3a" letter-spacing="-0.4">7b</text>
<rect x="352.95" y="34.65" width="13.10" height="7.90" fill="#fff" stroke="#444" stroke-width="0.85"/><text x="359.50" y="41.30" font-size="8.1" text-anchor="middle" fill="#3a3a3a" letter-spacing="0">1</text>
<rect x="302.65" y="77.85" width="13.10" height="7.90" fill="#fff" stroke="#444" stroke-width="0.85"/><text x="309.20" y="84.50" font-size="8.1" text-anchor="middle" fill="#3a3a3a" letter-spacing="0">2</text>
<rect x="412.55" y="63.65" width="13.10" height="7.90" fill="#fff" stroke="#444" stroke-width="0.85"/><text x="419.10" y="70.30" font-size="8.1" text-anchor="middle" fill="#3a3a3a" letter-spacing="0">5</text>
<rect x="226.05" y="86.85" width="13.10" height="7.90" fill="#fff" stroke="#444" stroke-width="0.85"/><text x="232.17" y="93.50" font-size="8.1" text-anchor="middle" fill="#3a3a3a" letter-spacing="-0.85">19a</text>
<rect x="191.85" y="106.95" width="13.10" height="7.90" fill="#fff" stroke="#444" stroke-width="0.85"/><text x="197.97" y="113.60" font-size="8.1" text-anchor="middle" fill="#3a3a3a" letter-spacing="-0.85">19b</text>
<rect x="153.95" y="150.45" width="13.10" height="7.90" fill="#fff" stroke="#444" stroke-width="0.85"/><text x="160.07" y="157.10" font-size="8.1" text-anchor="middle" fill="#3a3a3a" letter-spacing="-0.85">18a</text>
<rect x="90.95" y="166.95" width="13.10" height="7.90" fill="#fff" stroke="#444" stroke-width="0.85"/><text x="97.08" y="173.60" font-size="8.1" text-anchor="middle" fill="#3a3a3a" letter-spacing="-0.85">18b</text>
<rect x="25.65" y="184.75" width="13.10" height="7.90" fill="#fff" stroke="#444" stroke-width="0.85"/><text x="31.78" y="191.40" font-size="8.1" text-anchor="middle" fill="#3a3a3a" letter-spacing="-0.85">18c</text>
<rect x="352.65" y="130.55" width="13.10" height="7.90" fill="#fff" stroke="#444" stroke-width="0.85"/><text x="359.20" y="137.20" font-size="8.1" text-anchor="middle" fill="#3a3a3a" letter-spacing="0">1</text>
<rect x="304.85" y="156.05" width="13.10" height="7.90" fill="#fff" stroke="#444" stroke-width="0.85"/><text x="311.40" y="162.70" font-size="8.1" text-anchor="middle" fill="#3a3a3a" letter-spacing="0">6</text>
<rect x="238.75" y="187.95" width="13.10" height="7.90" fill="#fff" stroke="#444" stroke-width="0.85"/><text x="245.30" y="194.60" font-size="8.1" text-anchor="middle" fill="#3a3a3a" letter-spacing="0">1</text>
<rect x="182.95" y="215.65" width="13.10" height="7.90" fill="#fff" stroke="#444" stroke-width="0.85"/><text x="189.50" y="222.30" font-size="8.1" text-anchor="middle" fill="#3a3a3a" letter-spacing="0">4</text>
<rect x="128.95" y="242.35" width="13.10" height="7.90" fill="#fff" stroke="#444" stroke-width="0.85"/><text x="135.50" y="249.00" font-size="8.1" text-anchor="middle" fill="#3a3a3a" letter-spacing="0">1</text>
<rect x="43.65" y="276.65" width="13.10" height="7.90" fill="#fff" stroke="#444" stroke-width="0.85"/><text x="50.20" y="283.30" font-size="8.1" text-anchor="middle" fill="#3a3a3a" letter-spacing="0">3</text>
<rect x="100.85" y="305.65" width="13.10" height="7.90" fill="#fff" stroke="#444" stroke-width="0.85"/><text x="107.40" y="312.30" font-size="8.1" text-anchor="middle" fill="#3a3a3a" letter-spacing="0">1</text>
<rect x="179.85" y="325.75" width="13.10" height="7.90" fill="#fff" stroke="#444" stroke-width="0.85"/><text x="186.20" y="332.40" font-size="8.1" text-anchor="middle" fill="#3a3a3a" letter-spacing="-0.4">7a</text>
<rect x="59.55" y="371.45" width="13.10" height="7.90" fill="#fff" stroke="#444" stroke-width="0.85"/><text x="65.67" y="378.10" font-size="8.1" text-anchor="middle" fill="#3a3a3a" letter-spacing="-0.85">21a</text>
<rect x="76.85" y="371.45" width="13.10" height="7.90" fill="#fff" stroke="#444" stroke-width="0.85"/><text x="82.98" y="378.10" font-size="8.1" text-anchor="middle" fill="#3a3a3a" letter-spacing="-0.85">21b</text>
<rect x="94.75" y="371.45" width="13.10" height="7.90" fill="#fff" stroke="#444" stroke-width="0.85"/><text x="100.88" y="378.10" font-size="8.1" text-anchor="middle" fill="#3a3a3a" letter-spacing="-0.85">21c</text>
<rect x="264.55" y="206.85" width="13.10" height="7.90" fill="#fff" stroke="#444" stroke-width="0.85"/><text x="270.90" y="213.50" font-size="8.1" text-anchor="middle" fill="#3a3a3a" letter-spacing="-0.4">14</text>
<rect x="390.25" y="189.65" width="13.10" height="7.90" fill="#fff" stroke="#444" stroke-width="0.85"/><text x="396.60" y="196.30" font-size="8.1" text-anchor="middle" fill="#3a3a3a" letter-spacing="-0.4">14</text>
<rect x="442.65" y="195.25" width="13.10" height="7.90" fill="#fff" stroke="#444" stroke-width="0.85"/><text x="449.20" y="201.90" font-size="8.1" text-anchor="middle" fill="#3a3a3a" letter-spacing="0">9</text>
<rect x="391.25" y="283.05" width="13.10" height="7.90" fill="#fff" stroke="#444" stroke-width="0.85"/><text x="397.80" y="289.70" font-size="8.1" text-anchor="middle" fill="#3a3a3a" letter-spacing="0">8</text>
<rect x="442.55" y="272.05" width="13.10" height="7.90" fill="#fff" stroke="#444" stroke-width="0.85"/><text x="448.90" y="278.70" font-size="8.1" text-anchor="middle" fill="#3a3a3a" letter-spacing="-0.4">11</text>
<rect x="442.55" y="314.45" width="13.10" height="7.90" fill="#fff" stroke="#444" stroke-width="0.85"/><text x="448.90" y="321.10" font-size="8.1" text-anchor="middle" fill="#3a3a3a" letter-spacing="-0.4">12</text>
<rect x="391.65" y="364.35" width="13.10" height="7.90" fill="#fff" stroke="#444" stroke-width="0.85"/><text x="398.00" y="371.00" font-size="8.1" text-anchor="middle" fill="#3a3a3a" letter-spacing="-0.4">14</text>
<rect x="243.05" y="237.75" width="13.10" height="7.90" fill="#fff" stroke="#444" stroke-width="0.85"/><text x="249.17" y="244.40" font-size="8.1" text-anchor="middle" fill="#3a3a3a" letter-spacing="-0.85">20a</text>
<rect x="281.95" y="256.85" width="13.10" height="7.90" fill="#fff" stroke="#444" stroke-width="0.85"/><text x="288.07" y="263.50" font-size="8.1" text-anchor="middle" fill="#3a3a3a" letter-spacing="-0.85">20b</text>
<rect x="344.45" y="243.85" width="13.10" height="7.90" fill="#fff" stroke="#444" stroke-width="0.85"/><text x="350.80" y="250.50" font-size="8.1" text-anchor="middle" fill="#3a3a3a" letter-spacing="-0.4">10</text>
<rect x="315.55" y="273.05" width="13.10" height="7.90" fill="#fff" stroke="#444" stroke-width="0.85"/><text x="321.68" y="279.70" font-size="8.1" text-anchor="middle" fill="#3a3a3a" letter-spacing="-0.85">20c</text>
<rect x="343.45" y="293.05" width="13.10" height="7.90" fill="#fff" stroke="#444" stroke-width="0.85"/><text x="349.80" y="299.70" font-size="8.1" text-anchor="middle" fill="#3a3a3a" letter-spacing="-0.4">17</text>
<rect x="285.55" y="339.65" width="13.10" height="7.90" fill="#fff" stroke="#444" stroke-width="0.85"/><text x="291.68" y="346.30" font-size="8.1" text-anchor="middle" fill="#3a3a3a" letter-spacing="-0.85">16a</text>
<rect x="291.85" y="354.05" width="13.10" height="7.90" fill="#fff" stroke="#444" stroke-width="0.85"/><text x="297.97" y="360.70" font-size="8.1" text-anchor="middle" fill="#3a3a3a" letter-spacing="-0.85">16b</text>
<rect x="297.95" y="369.15" width="13.10" height="7.90" fill="#fff" stroke="#444" stroke-width="0.85"/><text x="304.07" y="375.80" font-size="8.1" text-anchor="middle" fill="#3a3a3a" letter-spacing="-0.85">16c</text>
<rect x="326.75" y="381.25" width="13.10" height="7.90" fill="#fff" stroke="#444" stroke-width="0.85"/><text x="333.10" y="387.90" font-size="8.1" text-anchor="middle" fill="#3a3a3a" letter-spacing="-0.4">16</text>
<rect x="237.45" y="387.85" width="13.10" height="7.90" fill="#fff" stroke="#444" stroke-width="0.85"/><text x="243.80" y="394.50" font-size="8.1" text-anchor="middle" fill="#3a3a3a" letter-spacing="-0.4">15</text>
<rect x="194.65" y="405.65" width="13.10" height="7.90" fill="#fff" stroke="#444" stroke-width="0.85"/><text x="201.00" y="412.30" font-size="8.1" text-anchor="middle" fill="#3a3a3a" letter-spacing="-0.4">13</text>
</svg></body></html>
